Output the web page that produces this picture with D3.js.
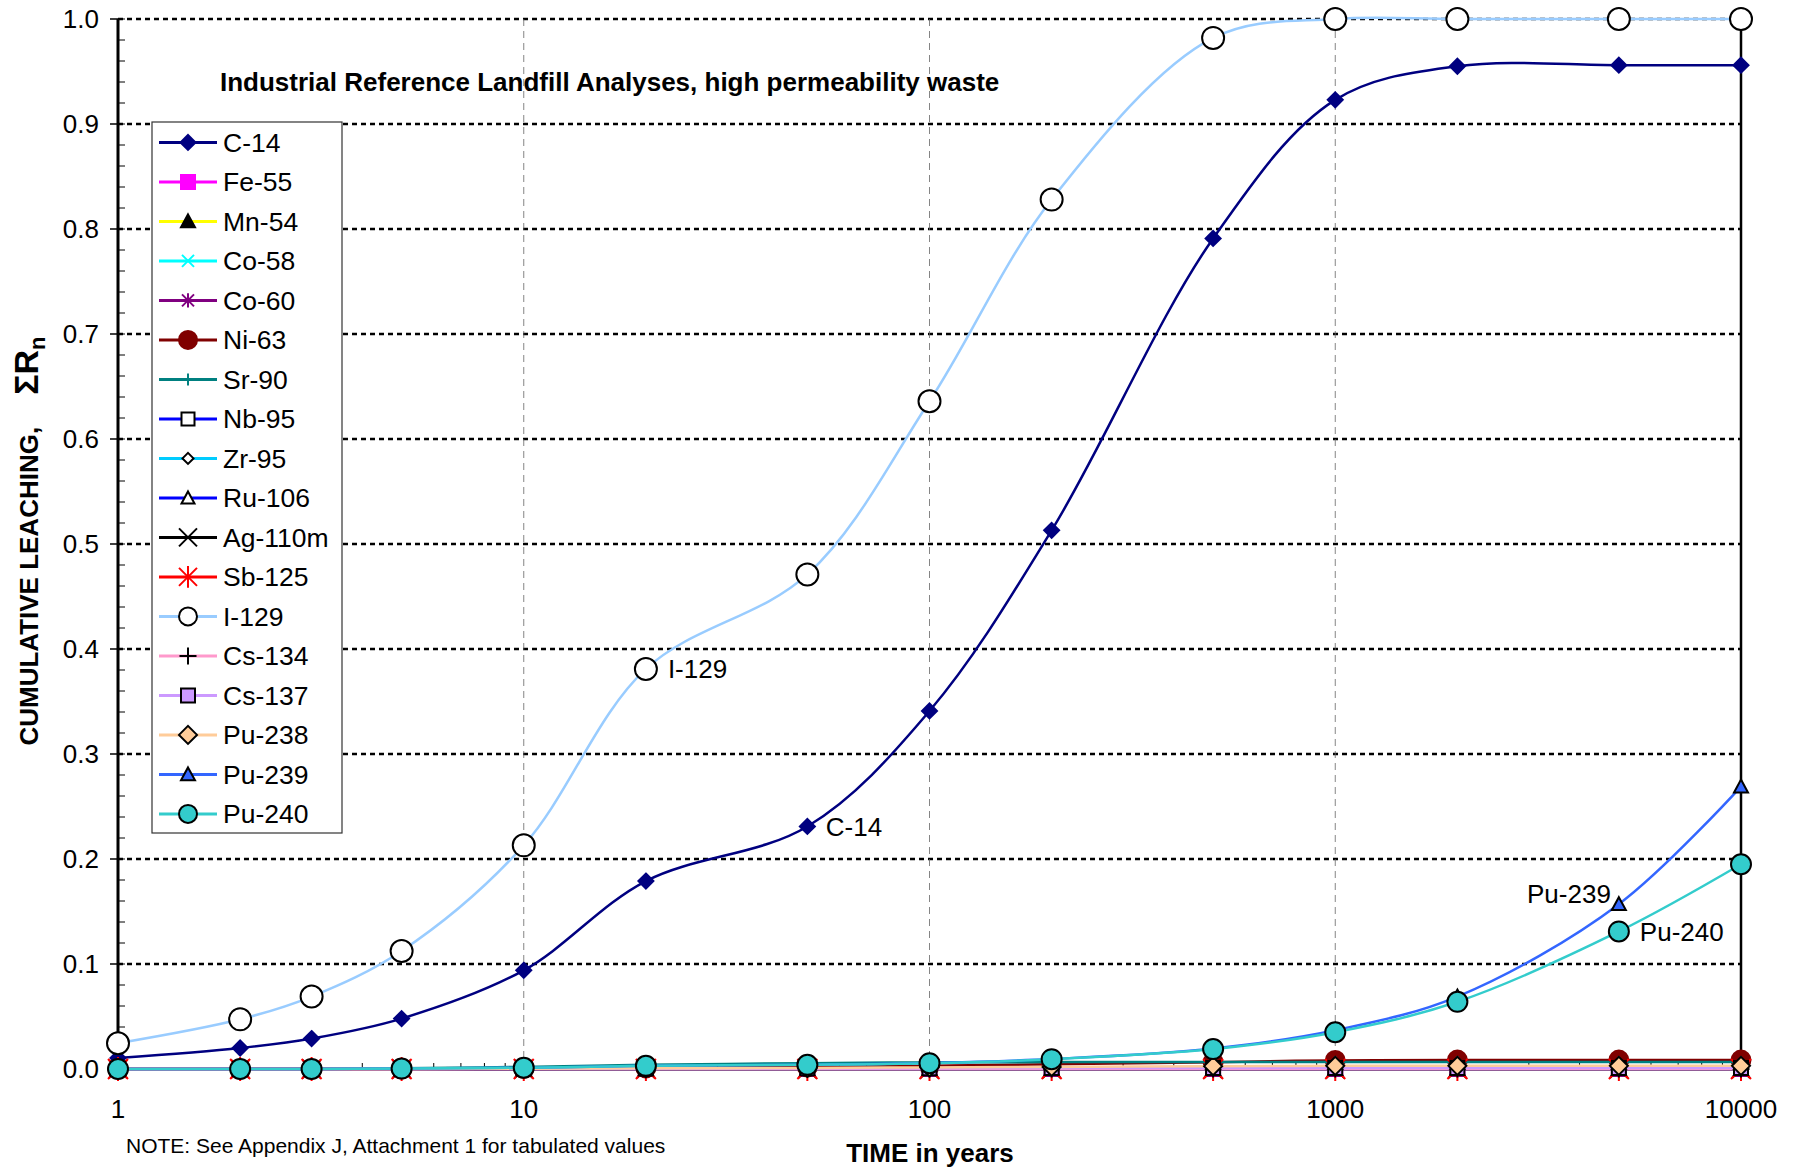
<!DOCTYPE html>
<html>
<head>
<meta charset="utf-8">
<script src="https://cdn.jsdelivr.net/npm/d3@7"></script>
<style>
  body { margin: 0; background: #fff; }
  svg { display: block; font-family: "Liberation Sans", Arial, sans-serif; }
</style>
</head>
<body>
<svg id="chart" width="1801" height="1169"></svg>
<script>
(function (d3) {
  'use strict';

  // ---- data ----
  const years = [1, 2, 3, 5, 10, 20, 50, 100, 200, 500, 1000, 2000, 5000, 10000];
  const nuclides = ['C-14', 'Fe-55', 'Mn-54', 'Co-58', 'Co-60', 'Ni-63', 'Sr-90', 'Nb-95', 'Zr-95',
    'Ru-106', 'Ag-110m', 'Sb-125', 'I-129', 'Cs-134', 'Cs-137', 'Pu-238', 'Pu-239', 'Pu-240'];

  const c14    = [0.0105, 0.020, 0.029, 0.048, 0.094, 0.179, 0.231, 0.341, 0.513, 0.791, 0.923, 0.955, 0.956, 0.956];
  const fe55   = [0, 0, 0, 0, 0, 0, 0, 0, 0, 0, 0, 0, 0, 0];
  const mn54   = [0, 0, 0, 0, 0, 0, 0, 0, 0, 0, 0, 0, 0, 0];
  const co58   = [0, 0, 0, 0, 0, 0, 0, 0, 0, 0, 0, 0, 0, 0];
  const co60   = [0, 0, 0, 0, 0.0001, 0.0002, 0.0003, 0.0003, 0.0003, 0.0003, 0.0003, 0.0003, 0.0003, 0.0003];
  const ni63   = [0, 0, 0, 0, 0.0005, 0.001, 0.002, 0.003, 0.0045, 0.0065, 0.0082, 0.0085, 0.0085, 0.0085];
  const sr90   = [0, 0.0002, 0.0004, 0.0008, 0.002, 0.004, 0.0055, 0.0063, 0.0066, 0.0067, 0.0067, 0.0067, 0.0067, 0.0067];
  const nb95   = [0, 0, 0, 0, 0, 0, 0, 0, 0, 0, 0, 0, 0, 0];
  const zr95   = [0, 0, 0, 0, 0, 0, 0, 0, 0, 0, 0, 0, 0, 0];
  const ru106  = [0, 0, 0, 0, 0, 0, 0, 0, 0, 0, 0, 0, 0, 0];
  const ag110m = [0, 0, 0, 0, 0, 0, 0, 0, 0, 0, 0, 0, 0, 0];
  const sb125  = [0, 0, 0, 0, 0, 0, 0, 0, 0, 0, 0, 0, 0, 0];
  const i129   = [0.0245, 0.0473, 0.069, 0.1124, 0.213, 0.381, 0.471, 0.636, 0.828, 0.982, 1.0, 1.0, 1.0, 1.0];
  const cs134  = [0, 0, 0, 0, 0, 0, 0, 0, 0, 0, 0, 0, 0, 0];
  const cs137  = [0, 0, 0, 0, 0.0002, 0.0004, 0.0006, 0.0008, 0.001, 0.001, 0.001, 0.001, 0.001, 0.001];
  const pu238  = [0, 0, 0, 0, 0.0003, 0.0006, 0.001, 0.0015, 0.002, 0.0027, 0.003, 0.003, 0.003, 0.003];
  const pu239  = [0, 0, 0, 0.0004, 0.0012, 0.003, 0.004, 0.0057, 0.0095, 0.0195, 0.037, 0.069, 0.157, 0.269];
  const pu240  = [0, 0, 0, 0.0004, 0.0012, 0.003, 0.004, 0.0055, 0.0093, 0.019, 0.035, 0.064, 0.131, 0.195];

  const seriesValues = [c14, fe55, mn54, co58, co60, ni63, sr90, nb95, zr95,
    ru106, ag110m, sb125, i129, cs134, cs137, pu238, pu239, pu240];

  const yTicks = [0, 0.1, 0.2, 0.3, 0.4, 0.5, 0.6, 0.7, 0.8, 0.9, 1.0];
  const xTicks = [1, 10, 100, 1000, 10000];

  // label name, year the label sits at, side
  const pointLabels = [
    { name: 'I-129', year: 20, side: 'right' },
    { name: 'C-14', year: 50, side: 'right' },
    { name: 'Pu-239', year: 5000, side: 'left' },
    { name: 'Pu-240', year: 5000, side: 'right' }
  ];

  // ---- styles (Excel-like) ----
  const styles = {
    'C-14':    { line: '#000080', marker: 'diamond',  fill: '#000080', stroke: '#000080', size: 7.5 },
    'Fe-55':   { line: '#FF00FF', marker: 'square',   fill: '#FF00FF', stroke: '#FF00FF', size: 7 },
    'Mn-54':   { line: '#FFFF00', marker: 'triangle', fill: '#000000', stroke: '#000000', size: 7 },
    'Co-58':   { line: '#00FFFF', marker: 'x',        fill: 'none',    stroke: '#00FFFF', size: 6 },
    'Co-60':   { line: '#800080', marker: 'star',     fill: 'none',    stroke: '#800080', size: 6 },
    'Ni-63':   { line: '#800000', marker: 'circle',   fill: '#800000', stroke: '#800000', size: 9.5 },
    'Sr-90':   { line: '#008080', marker: 'plus',     fill: 'none',    stroke: '#008080', size: 6 },
    'Nb-95':   { line: '#0000FF', marker: 'square',   fill: '#FFFFFF', stroke: '#000000', size: 6.5 },
    'Zr-95':   { line: '#00CCFF', marker: 'diamond',  fill: '#FFFFFF', stroke: '#000000', size: 5.5 },
    'Ru-106':  { line: '#0000FF', marker: 'triangle', fill: '#FFFFFF', stroke: '#000000', size: 6.5 },
    'Ag-110m': { line: '#000000', marker: 'x',        fill: 'none',    stroke: '#000000', size: 9 },
    'Sb-125':  { line: '#FF0000', marker: 'star',     fill: 'none',    stroke: '#FF0000', size: 10 },
    'I-129':   { line: '#99CCFF', marker: 'circle',   fill: '#FFFFFF', stroke: '#000000', size: 11 },
    'Cs-134':  { line: '#FF99CC', marker: 'plus',     fill: 'none',    stroke: '#000000', size: 8.5 },
    'Cs-137':  { line: '#CC99FF', marker: 'square',   fill: '#CC99FF', stroke: '#000000', size: 7 },
    'Pu-238':  { line: '#FFCC99', marker: 'diamond',  fill: '#FFCC99', stroke: '#000000', size: 9 },
    'Pu-239':  { line: '#3366FF', marker: 'triangle', fill: '#3366FF', stroke: '#000000', size: 7 },
    'Pu-240':  { line: '#33CCCC', marker: 'circle',   fill: '#33CCCC', stroke: '#000000', size: 10 }
  };

  const series = nuclides.map((name, i) => ({
    name,
    points: years.map((yr, j) => ({ x: yr, y: seriesValues[i][j] }))
  }));

  // marker path centred at 0,0
  const markerPath = (type, s) => {
    switch (type) {
      case 'diamond': return `M0,${-s}L${s},0L0,${s}L${-s},0Z`;
      case 'square': return `M${-s},${-s}H${s}V${s}H${-s}Z`;
      case 'triangle': return `M0,${-s}L${s},${s * 0.85}L${-s},${s * 0.85}Z`;
      case 'x': return `M${-s},${-s}L${s},${s}M${-s},${s}L${s},${-s}`;
      case 'star': return `M${-s},${-s}L${s},${s}M${-s},${s}L${s},${-s}M0,${-s * 1.2}V${s * 1.2}`;
      case 'plus': return `M${-s},0H${s}M0,${-s}V${s}`;
      case 'circle': {
        const p = d3.path();
        p.arc(0, 0, s, 0, 2 * Math.PI);
        p.closePath();
        return p.toString();
      }
    }
  };

  const svg = d3.select('#chart');
  const width = +svg.attr('width');
  const height = +svg.attr('height');

  const plot = { left: 118, right: 1741, top: 19, bottom: 1069 };

  const x = d3.scaleLog().domain([1, 10000]).range([plot.left, plot.right]);
  const y = d3.scaleLinear().domain([0, 1]).range([plot.bottom, plot.top]);

  svg.append('rect').attr('width', width).attr('height', height).attr('fill', '#fff');

  // horizontal dotted gridlines
  svg.append('g').selectAll('line')
    .data(yTicks.filter(d => d > 0))
    .enter().append('line')
    .attr('x1', plot.left).attr('x2', plot.right)
    .attr('y1', d => y(d)).attr('y2', d => y(d))
    .attr('stroke', '#000').attr('stroke-width', 2.5)
    .attr('stroke-dasharray', '5,4');

  // vertical dashed gridlines
  svg.append('g').selectAll('line')
    .data(xTicks.slice(1, -1))
    .enter().append('line')
    .attr('x1', d => x(d)).attr('x2', d => x(d))
    .attr('y1', plot.top).attr('y2', plot.bottom)
    .attr('stroke', '#666').attr('stroke-width', 0.8)
    .attr('stroke-dasharray', '7,5');

  // right edge line
  svg.append('line')
    .attr('x1', x(10000)).attr('x2', x(10000))
    .attr('y1', plot.top).attr('y2', plot.bottom)
    .attr('stroke', '#000').attr('stroke-width', 2.5);

  // y axis
  const yAxisG = svg.append('g');
  const yMinor = d3.range(0, 1.0001, 0.02);
  yAxisG.selectAll('.minor').data(yMinor).enter().append('line')
    .attr('x1', plot.left).attr('x2', plot.left + 7)
    .attr('y1', d => y(d)).attr('y2', d => y(d))
    .attr('stroke', '#000').attr('stroke-width', 1);
  yAxisG.selectAll('.major').data(yTicks).enter().append('line')
    .attr('x1', plot.left - 8).attr('x2', plot.left)
    .attr('y1', d => y(d)).attr('y2', d => y(d))
    .attr('stroke', '#000').attr('stroke-width', 1.5);
  yAxisG.append('line')
    .attr('x1', plot.left).attr('x2', plot.left)
    .attr('y1', plot.top).attr('y2', plot.bottom)
    .attr('stroke', '#000').attr('stroke-width', 3);
  yAxisG.selectAll('text').data(yTicks).enter().append('text')
    .attr('x', plot.left - 19).attr('y', d => y(d))
    .attr('dy', '0.35em')
    .attr('text-anchor', 'end')
    .attr('font-size', 26)
    .text(d3.format('.1f'));

  // x axis
  const xAxisG = svg.append('g');
  const xMinor = [];
  for (let dec = 1; dec < 10000; dec *= 10) {
    for (let k = 2; k <= 9; k++) xMinor.push(dec * k);
  }
  xAxisG.append('line')
    .attr('x1', plot.left).attr('x2', plot.right)
    .attr('y1', plot.bottom).attr('y2', plot.bottom)
    .attr('stroke', '#000').attr('stroke-width', 1.5);
  xAxisG.selectAll('.minor').data(xMinor).enter().append('line')
    .attr('x1', d => x(d)).attr('x2', d => x(d))
    .attr('y1', plot.bottom - 6).attr('y2', plot.bottom)
    .attr('stroke', '#000').attr('stroke-width', 1);
  xAxisG.selectAll('.major').data(xTicks).enter().append('line')
    .attr('x1', d => x(d)).attr('x2', d => x(d))
    .attr('y1', plot.bottom).attr('y2', plot.bottom + 7)
    .attr('stroke', '#000').attr('stroke-width', 1.5);
  xAxisG.selectAll('text').data(xTicks).enter().append('text')
    .attr('x', d => x(d)).attr('y', 1118)
    .attr('text-anchor', 'middle')
    .attr('font-size', 26)
    .text(d => d);

  // series
  const lineGen = d3.line()
    .x(d => x(d.x))
    .y(d => y(d.y))
    .curve(d3.curveCatmullRom.alpha(0.5));

  const seriesG = svg.append('g').selectAll('g')
    .data(series)
    .enter().append('g');

  seriesG.each(function (s) {
    const st = styles[s.name];
    const g = d3.select(this);
    g.append('path')
      .attr('d', lineGen(s.points))
      .attr('fill', 'none')
      .attr('stroke', st.line)
      .attr('stroke-width', 2.5);
    g.selectAll('path.mk').data(s.points).enter().append('path')
      .attr('class', 'mk')
      .attr('transform', d => `translate(${x(d.x)},${y(d.y)})`)
      .attr('d', markerPath(st.marker, st.size))
      .attr('fill', st.fill)
      .attr('stroke', st.stroke)
      .attr('stroke-width', 2);
  });

  // point labels
  svg.append('g').selectAll('text')
    .data(pointLabels)
    .enter().append('text')
    .attr('x', d => {
      const st = styles[d.name];
      return d.side === 'right' ? x(d.year) + st.size + 11 : x(d.year) - st.size - 1;
    })
    .attr('y', d => {
      const v = seriesValues[nuclides.indexOf(d.name)][years.indexOf(d.year)];
      return d.side === 'right' ? y(v) : y(v) - 10;
    })
    .attr('dy', '0.35em')
    .attr('text-anchor', d => d.side === 'right' ? 'start' : 'end')
    .attr('font-size', 26)
    .text(d => d.name);

  // legend
  const legendG = svg.append('g').attr('transform', 'translate(152,122)');
  legendG.append('rect')
    .attr('width', 190).attr('height', 711)
    .attr('fill', '#fff').attr('stroke', '#333').attr('stroke-width', 1.2);
  const rows = legendG.selectAll('g.row')
    .data(nuclides)
    .enter().append('g')
    .attr('class', 'row')
    .attr('transform', (d, i) => `translate(0,${20.4 + i * 39.5})`);
  rows.append('line')
    .attr('x1', 7).attr('x2', 65)
    .attr('stroke', d => styles[d].line)
    .attr('stroke-width', 3);
  rows.append('path')
    .attr('transform', 'translate(36,0)')
    .attr('d', d => markerPath(styles[d].marker, Math.min(styles[d].size, 9)))
    .attr('fill', d => styles[d].fill)
    .attr('stroke', d => styles[d].stroke)
    .attr('stroke-width', 2);
  rows.append('text')
    .attr('x', 71).attr('dy', '0.36em')
    .attr('font-size', 26.5)
    .text(d => d);

  // titles
  svg.append('text')
    .attr('x', 220).attr('y', 91)
    .attr('font-size', 26).attr('font-weight', 'bold')
    .text('Industrial Reference Landfill Analyses, high permeability waste');

  const yLabel = svg.append('text')
    .attr('transform', 'translate(38,541) rotate(-90)')
    .attr('text-anchor', 'middle')
    .attr('font-weight', 'bold');
  yLabel.append('tspan').attr('font-size', 26).text('CUMULATIVE LEACHING,');
  yLabel.append('tspan').attr('font-size', 34).attr('dx', 32).text('\u03A3R');
  yLabel.append('tspan').attr('font-size', 22).attr('dy', 7).text('n');

  svg.append('text')
    .attr('x', 930).attr('y', 1162)
    .attr('text-anchor', 'middle')
    .attr('font-size', 26).attr('font-weight', 'bold')
    .text('TIME in years');

  svg.append('text')
    .attr('x', 126).attr('y', 1153)
    .attr('font-size', 21)
    .text('NOTE: See Appendix J, Attachment 1 for tabulated values');

}(d3));
</script>
</body>
</html>
